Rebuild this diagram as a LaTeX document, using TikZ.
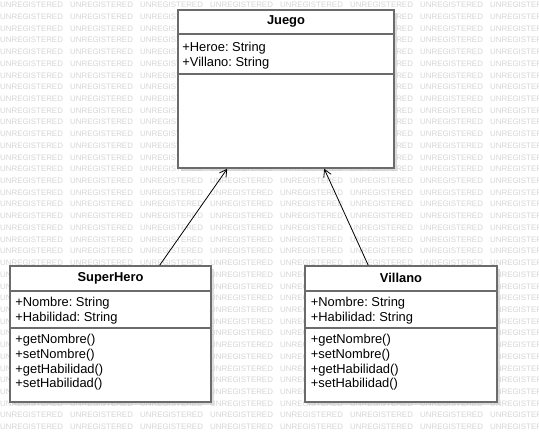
\documentclass[tikz,border=0pt]{standalone}
\usepackage{fontspec}
\setmainfont{Liberation Sans}
\usetikzlibrary{arrows.meta,calc,shadows}
\frenchspacing

\definecolor{boxgray}{HTML}{6B6B6B}
\definecolor{wmgray}{HTML}{D6D6D6}

\tikzset{
    classbox/.style={rectangle, draw=boxgray, line width=1.6pt, fill=white, inner sep=0pt,
        drop shadow={shadow xshift=3pt, shadow yshift=-3pt, fill=black!22, opacity=.6}},
    sepline/.style={draw=boxgray, line width=1.6pt},
    classname/.style={font=\fontsize{12.9}{14.7}\selectfont\bfseries, inner sep=0pt},
    members/.style={align=left, anchor=north west, inner sep=0pt,
        font=\fontsize{12.9}{14.7}\selectfont},
    wmark/.style={text=wmgray, inner sep=0pt, anchor=west, font=\fontsize{7.9}{8}\selectfont},
    inherits/.style={draw=black, line width=0.8pt, -{Straight Barb[length=7pt,width=8pt]}}
}

\begin{document}
\begin{tikzpicture}[x=1pt, y=-1pt, font=\fontsize{12.9}{14.7}\selectfont]
        \useasboundingbox (0,0) rectangle (539,442);
        \fill[white] (0,0) rectangle (539,442);

        \begin{scope}
            \clip (0,0) rectangle (539,442);
            \foreach \r in {0,...,36}
                \foreach \c in {0,...,7} {
                    \pgfmathsetmacro\wx{70*\c}
                    \pgfmathsetmacro\wy{5+11.72*\r}
                    \pgfmathtruncatemacro\hidden{((\wx>=178)&&(\wx+62<=394)&&(\wy>=14)&&(\wy<=164))
                        ||((\wx>=10)&&(\wx+62<=211)&&(\wy>=270)&&(\wy<=398))
                        ||((\wx>=305)&&(\wx+62<=497)&&(\wy>=270)&&(\wy<=398))}
                    \ifnum\hidden=0
                        \node[wmark] (wm-\r-\c) at (\wx, \wy) {UNREGISTERED};
                    \fi
                }
        \end{scope}

        \node[classbox, minimum width=216pt, minimum height=158pt] (juego) at (286,89) {};
        \node[classname] (juego-name) at ($(juego.north)+(0,12)$) {Juego};
        \draw[sepline] ($(juego.north west)+(0,25)$) -- ($(juego.north east)+(0,25)$);
        \node[members] (juego-attr) at ($(juego.north west)+(5,33)$) {+Heroe: String\\+Villano: String};
        \draw[sepline] ($(juego.north west)+(0,65)$) -- ($(juego.north east)+(0,65)$);

        \node[classbox, minimum width=201pt, minimum height=136pt] (hero) at (110.5,334) {};
        \node[classname] (hero-name) at ($(hero.north)+(0,13)$) {SuperHero};
        \draw[sepline] ($(hero.north west)+(0,26)$) -- ($(hero.north east)+(0,26)$);
        \node[members] (hero-attr) at ($(hero.north west)+(6,32)$) {+Nombre: String\\+Habilidad: String};
        \draw[sepline] ($(hero.north west)+(0,63)$) -- ($(hero.north east)+(0,63)$);
        \node[members] (hero-ops) at ($(hero.north west)+(6,69)$)
            {+getNombre()\\+setNombre()\\+getHabilidad()\\+setHabilidad()};

        \node[classbox, minimum width=192pt, minimum height=136pt] (villano) at (401,334) {};
        \node[classname] (villano-name) at ($(villano.north)+(0,13)$) {Villano};
        \draw[sepline] ($(villano.north west)+(0,26)$) -- ($(villano.north east)+(0,26)$);
        \node[members] (villano-attr) at ($(villano.north west)+(6.5,32)$) {+Nombre: String\\+Habilidad: String};
        \draw[sepline] ($(villano.north west)+(0,63)$) -- ($(villano.north east)+(0,63)$);
        \node[members] (villano-ops) at ($(villano.north west)+(6.5,69)$)
            {+getNombre()\\+setNombre()\\+getHabilidad()\\+setHabilidad()};

        \coordinate (hero-top) at ($(hero.north west)+(150.5,0)$);
        \coordinate (villano-top) at ($(villano.north west)+(64,0)$);
        \coordinate (juego-in1) at ($(juego.south west)+(50,0)$);
        \coordinate (juego-in2) at ($(juego.south west)+(147,0)$);

        \draw[inherits] (hero-top) -- (juego-in1);
        \draw[inherits] (villano-top) -- (juego-in2);
    \end{tikzpicture}
\end{document}
